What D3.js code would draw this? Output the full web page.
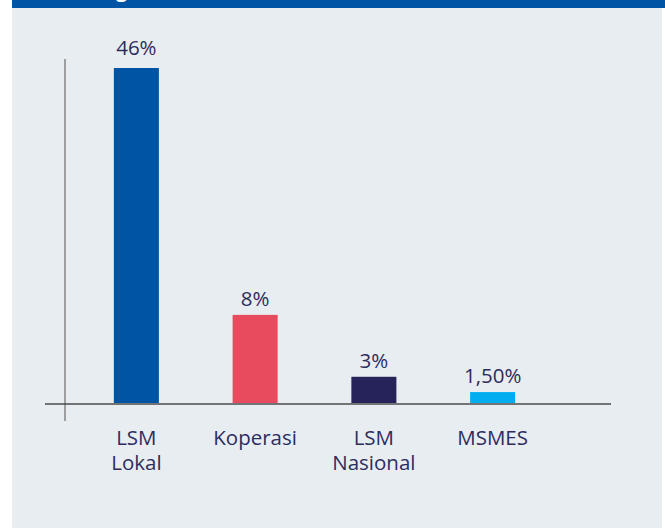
<!DOCTYPE html>
<html>
<head>
<meta charset="utf-8">
<script src="https://cdn.jsdelivr.net/npm/d3@7"></script>
<style>
  html, body { margin: 0; padding: 0; background: #fff; }
  svg { display: block; font-family: "Open Sans", "Noto Sans", sans-serif; }
</style>
</head>
<body>
<div id="vis"></div>
<script>
// Bar chart: share per institution type

const width = 665, height = 528;

// data
const categories = ["LSM Lokal", "Koperasi", "LSM Nasional", "MSMES"];
const catLines   = [["LSM", "Lokal"], ["Koperasi"], ["LSM", "Nasional"], ["MSMES"]];
const values     = [46, 12.1, 3.6, 1.5];           // bar heights as drawn
const valueLabels = ["46%", "8%", "3%", "1,50%"];  // labels as printed
const colors     = ["#0054a4", "#e94b5e", "#26235a", "#00aeef"];

const textColor = "#2d2c5e";

const svg = d3.select("#vis").append("svg")
  .attr("width", width).attr("height", height);

// panel + cut header band
svg.append("rect")
  .attr("x", 12).attr("y", 0).attr("width", 650).attr("height", height)
  .attr("fill", "#e8edf2");
svg.append("rect")
  .attr("x", 12).attr("y", 0).attr("width", 653).attr("height", 8)
  .attr("fill", "#0054a6");
svg.append("text")
  .attr("x", 116).attr("y", -3)
  .attr("fill", "#fff").attr("font-size", 20).attr("font-weight", 700)
  .text("g");

const base = 403;
const y = d3.scaleLinear().domain([0, 46]).range([base, 68]);
const x = d3.scaleBand()
  .domain(categories)
  .range([77, 552])
  .paddingInner(0.6208)
  .paddingOuter(0.3104);

// axes lines
svg.append("line")
  .attr("x1", 65).attr("x2", 65).attr("y1", 59).attr("y2", 421)
  .attr("stroke", "#8a8a8a").attr("stroke-width", 1.6);
svg.append("line")
  .attr("x1", 45).attr("x2", 611).attr("y1", 404).attr("y2", 404)
  .attr("stroke", "#4a4a4a").attr("stroke-width", 1.4);

const data = categories.map((c, i) => ({ c, v: values[i], lab: valueLabels[i], col: colors[i], lines: catLines[i] }));
const cx = d => x(d.c) + x.bandwidth() / 2;

svg.append("g").selectAll("rect").data(data).enter().append("rect")
  .attr("x", d => x(d.c))
  .attr("width", x.bandwidth())
  .attr("y", d => y(d.v))
  .attr("height", d => base - y(d.v))
  .attr("fill", d => d.col);

svg.append("g").selectAll("text").data(data).enter().append("text")
  .attr("x", cx)
  .attr("y", (d, i) => y(d.v) - (i === 0 ? 13 : 9))
  .attr("text-anchor", "middle")
  .attr("font-size", 20.5)
  .attr("fill", textColor)
  .text(d => d.lab);

// category labels, one text per line
const catText = data.flatMap(d => d.lines.map((t, j) => ({ t, x: cx(d), j })));
svg.append("g").selectAll("text").data(catText).enter().append("text")
  .attr("x", d => d.x)
  .attr("y", d => 445 + d.j * 25)
  .attr("text-anchor", "middle")
  .attr("font-size", 20.5)
  .attr("fill", textColor)
  .text(d => d.t);
</script>
</body>
</html>
